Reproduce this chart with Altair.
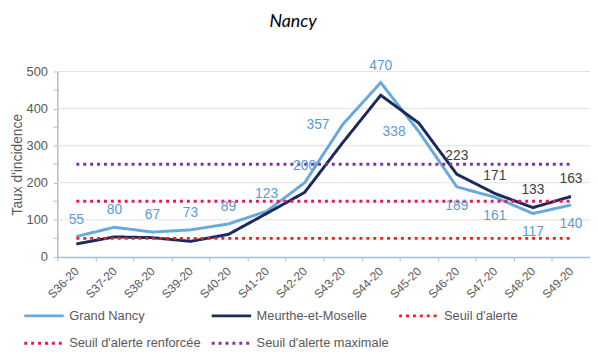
import altair as alt
import pandas as pd

weeks = ["S36-20", "S37-20", "S38-20", "S39-20", "S40-20", "S41-20", "S42-20",
         "S43-20", "S44-20", "S45-20", "S46-20", "S47-20", "S48-20", "S49-20"]
grand_nancy = [55, 80, 67, 73, 89, 123, 200, 357, 470, 338, 189, 161, 117, 140]
meurthe = [35, 54, 52, 42, 61, 117, 174, 308, 436, 361, 223, 171, 133, 163]

series_names = ["Grand Nancy", "Meurthe-et-Moselle", "Seuil d'alerte",
                "Seuil d'alerte renforcée", "Seuil d'alerte maximale"]
series_colors = ["#6AA9DC", "#1B2A5C", "#FF1A1A", "#E6185C", "#7A35A8"]
threshold_names = ["Seuil d'alerte", "Seuil d'alerte renforcée", "Seuil d'alerte maximale"]
threshold_values = [50, 150, 250]
grid_values = [100, 200, 300, 400, 500]
y_ticks = [0, 100, 200, 300, 400, 500]
y_minor_ticks = [50, 150, 250, 350, 450]

rows = []
for w, v in zip(weeks, grand_nancy):
    rows.append({"week": w, "serie": "Grand Nancy", "value": v})
for w, v in zip(weeks, meurthe):
    rows.append({"week": w, "serie": "Meurthe-et-Moselle", "value": v})
for n, t in zip(threshold_names, threshold_values):
    for w in weeks:
        rows.append({"week": w, "serie": n, "value": t})
df = pd.DataFrame(rows)
gn = pd.DataFrame({"week": weeks, "value": grand_nancy})
mm = pd.DataFrame({"week": weeks, "value": meurthe})
grid = pd.DataFrame({"value": grid_values})
minor = pd.DataFrame({"value": y_minor_ticks})

GRAY = "#595959"
AXIS = "#A9BCD5"

x_axis = alt.Axis(title=None, labelAngle=-45, labelAlign="right",
                  labelBaseline="middle", labelFontSize=12,
                  labelColor=GRAY, labelFont="Liberation Sans",
                  tickBand="extent", tickSize=4, tickColor=AXIS,
                  domainColor=AXIS, domainWidth=1.5, labelPadding=8,
                  grid=False)
x_scale = alt.Scale(paddingInner=0, paddingOuter=0, domain=weeks)
y_scale = alt.Scale(domain=[0, 500], nice=False, zero=True)
y_axis = alt.Axis(title="Taux d'incidence", values=y_ticks, tickCount=6,
                  labelOverlap=False,
                  labelFontSize=13, labelColor=GRAY, labelFont="Liberation Sans",
                  titleFontSize=14, titleFontWeight="normal", titleColor=GRAY,
                  titleFont="Liberation Sans", titlePadding=2,
                  tickSize=4, tickColor=AXIS, domainColor=AXIS, domainWidth=1.5,
                  labelPadding=6, grid=False)


def xe():
    return alt.X("week:N", sort=weeks, scale=x_scale, axis=x_axis)


def ye():
    return alt.Y("value:Q", scale=y_scale, axis=y_axis)


grid_layer = alt.Chart(grid).mark_rule(color="#E3E3E3", strokeWidth=1).encode(y=ye())

minor_layer = alt.Chart(minor).mark_tick(color=AXIS, size=4, thickness=1.5,
                                          orient="horizontal").encode(
    y=ye(), x=alt.value(-2),
)

lines = alt.Chart(df).mark_line(strokeWidth=3).encode(
    x=xe(),
    y=ye(),
    color=alt.Color("serie:N", scale=alt.Scale(domain=series_names, range=series_colors),
                    sort=series_names, title=None),
    strokeDash=alt.StrokeDash("serie:N", scale=alt.Scale(
        domain=series_names, range=[[1, 0], [1, 0], [3, 4], [3, 4], [3, 4]]),
        sort=series_names, title=None),
    order=alt.Order("week:N"),
)

txt_props = dict(fontSize=14, font="Liberation Sans", baseline="middle", align="center")

gn_above = alt.Chart(gn).transform_filter(
    alt.FieldOneOfPredicate(field="week", oneOf=weeks[:7] + ["S44-20"])
).mark_text(color="#5B9BD5", dy=-17, **txt_props).encode(x=xe(), y=ye(), text="value:Q")

gn_left = alt.Chart(gn).transform_filter(
    alt.FieldOneOfPredicate(field="week", oneOf=["S43-20", "S45-20"])
).mark_text(color="#5B9BD5", dx=-25, dy=1, **txt_props).encode(x=xe(), y=ye(), text="value:Q")

gn_below = alt.Chart(gn).transform_filter(
    alt.FieldOneOfPredicate(field="week", oneOf=weeks[10:])
).mark_text(color="#5B9BD5", dy=19, **txt_props).encode(x=xe(), y=ye(), text="value:Q")

mm_above = alt.Chart(mm).transform_filter(
    alt.FieldOneOfPredicate(field="week", oneOf=weeks[10:])
).mark_text(color="#404040", dy=-18, **txt_props).encode(x=xe(), y=ye(), text="value:Q")

chart = alt.layer(grid_layer, minor_layer, lines, gn_above, gn_left, gn_below,
                  mm_above).properties(
    width=540, height=188,
    title=alt.TitleParams("Nancy", font="Lato", fontStyle="italic", fontSize=18,
                          fontWeight="normal", color="#000000", anchor="middle",
                          dx=-31, offset=28),
    autosize=alt.AutoSizeParams(type="none"),
    padding={"left": 50, "top": 62, "right": 0, "bottom": 92},
).configure_view(stroke=None).configure_axisY(labelOverlap=False).configure_legend(
    orient="none", legendX=-35, legendY=241, columns=3, direction="horizontal",
    symbolType="M-1,0H7", symbolSize=100, symbolStrokeWidth=3,
    labelFontSize=13, labelColor=GRAY, labelFont="Liberation Sans",
    columnPadding=4, rowPadding=14, labelOffset=34, gridAlign="each",
)

chart.save("out.html", embed_options={"renderer": "svg", "actions": False})
